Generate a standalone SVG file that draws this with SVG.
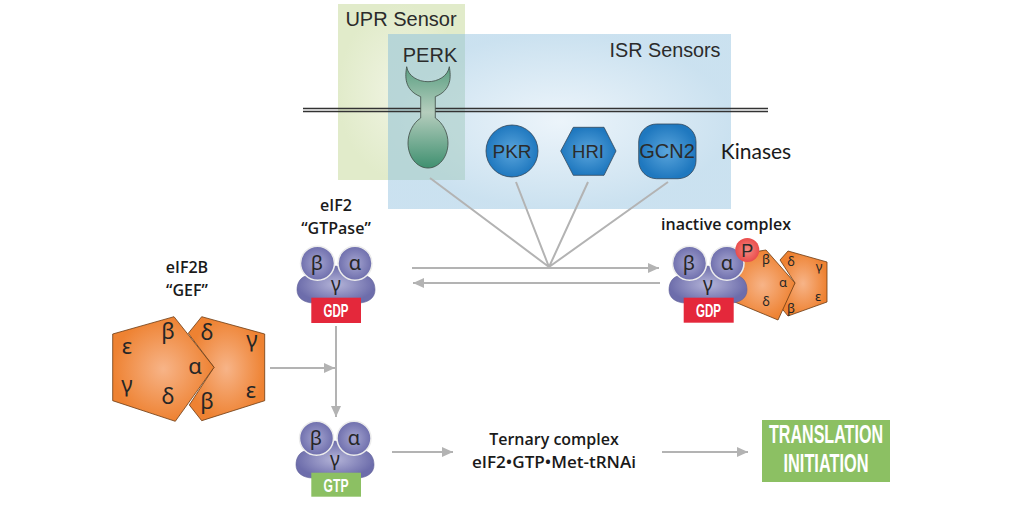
<svg xmlns="http://www.w3.org/2000/svg" width="1024" height="511" viewBox="0 0 1024 511">
<style>
.h{font-family:"Liberation Sans",Arial,sans-serif;fill:#2b2b2b;text-anchor:middle}
.l{font-family:"Open Sans","Noto Sans",sans-serif;font-weight:600;fill:#1a1a1a;text-anchor:middle;font-size:16px}
.g{font-family:"Noto Sans","DejaVu Sans",sans-serif;fill:#262626;text-anchor:middle}
.w{font-family:"Liberation Sans",Arial,sans-serif;font-weight:700;fill:#fff;text-anchor:middle}
.c{stroke:#b3b3b3;stroke-width:2;fill:none}
.sub{fill:url(#pur);stroke:#ececec;stroke-width:1.500}
.body{fill:url(#pur2);stroke:#5f5f97;stroke-width:.6}
.or{fill:url(#org);stroke:#6b3a12;stroke-width:.8}
.bl{fill:url(#blu);stroke:#33475a;stroke-width:.8}
</style>
<defs>
<radialGradient id="isr"><stop offset="0" stop-color="#eaf3fa"/><stop offset="1" stop-color="#c5deee"/></radialGradient>
<radialGradient id="upr"><stop offset="0" stop-color="#f0f4e2"/><stop offset="1" stop-color="#e1ebca"/></radialGradient>
<radialGradient id="blu"><stop offset="0" stop-color="#5aa5dc"/><stop offset="1" stop-color="#1f78bf"/></radialGradient>
<radialGradient id="org"><stop offset="0" stop-color="#f7b488"/><stop offset="1" stop-color="#ee8232"/></radialGradient>
<radialGradient id="pur"><stop offset="0" stop-color="#a5a5d0"/><stop offset="1" stop-color="#6f6fad"/></radialGradient>
<radialGradient id="pur2"><stop offset="0" stop-color="#b4b4d8"/><stop offset="1" stop-color="#6d6dab"/></radialGradient>
<radialGradient id="red"><stop offset="0" stop-color="#f58a80"/><stop offset="1" stop-color="#ea4c4c"/></radialGradient>
<linearGradient id="grn" x1="0" y1="0" x2="0" y2="1"><stop offset="0" stop-color="#5a9f82"/><stop offset=".45" stop-color="#b5cdbd"/><stop offset="1" stop-color="#3f9070"/></linearGradient>
<marker id="a" markerUnits="userSpaceOnUse" markerWidth="12" markerHeight="12" refX="11" refY="6" orient="auto"><path d="M0 1L11 6L0 11z" fill="#b3b3b3"/></marker>
<g id="eif2core">
<path class="body" d="M310 275C300 276 297 283 297 290C297 298 304 303 314 303H358C368 303 375 298 375 290C375 283 372 276 362 275L336 266Z"/>
<circle class="sub" cx="317.500" cy="263.300" r="17"/>
<circle class="sub" cx="355" cy="263.300" r="17"/>
<text class="g" x="317" y="270" font-size="20">β</text>
<text class="g" x="355" y="270" font-size="20">α</text>
<text class="g" x="336" y="291" font-size="19">γ</text>
</g>
</defs>

<g id="sensors">
<rect id="upr-box" x="338" y="4" width="127" height="176" fill="url(#upr)"/>
<text class="h" x="401" y="26" font-size="20">UPR Sensor</text>
<rect id="isr-box" x="388" y="34" width="343" height="175" fill="url(#isr)" fill-opacity=".9"/>
<rect x="388" y="34" width="77" height="146" fill="#a9cdc6" fill-opacity=".55"/>
<text class="h" x="665" y="57" font-size="19.800">ISR Sensors</text>
</g>

<g id="membrane">
<path d="M303 108.500H768M303 111.500H768" stroke="#333" stroke-width="1.300" fill="none"/>
</g>

<g id="connectors">
<path class="c" d="M430 178L549 267M516 182L549 267M588 182L549 267M668 182L549 267"/>
<path class="c" d="M412 268H659" marker-end="url(#a)"/>
<path class="c" d="M660 283H413" marker-end="url(#a)"/>
<path class="c" d="M336 326V417" marker-end="url(#a)"/>
<path class="c" d="M270 368H335" marker-end="url(#a)"/>
<path class="c" d="M392 452H453" marker-end="url(#a)"/>
<path class="c" d="M662 452H748" marker-end="url(#a)"/>
</g>

<g id="perk">
<path d="M406.700 66.700C408 76 418 81.700 428 81.700C438 81.700 448 76 449.300 66.700C451 76 452 90 435.300 96.700V118C443 123 448 133 448 143C448 157 439 168 428 168C417 168 408 157 408 143C408 133 413 123 420.700 118V96.700C404 90 405 76 406.700 66.700Z" fill="url(#grn)" stroke="#3d4a44" stroke-width=".8"/>
<text class="h" x="430" y="62" font-size="20">PERK</text>
</g>
<g id="pkr">
<circle class="bl" cx="512" cy="151" r="26"/>
<text class="h" x="512" y="158" font-size="19">PKR</text>
</g>
<g id="hri">
<path class="bl" d="M560.700 151L573.300 127.300H604L616 151L604 175.300H573.300Z"/>
<text class="h" x="588" y="158" font-size="18.500">HRI</text>
</g>
<g id="gcn2">
<rect class="bl" x="638.700" y="124" width="57.300" height="54.700" rx="18"/>
<text class="h" x="667" y="158" font-size="20">GCN2</text>
</g>
<text id="kinases" x="756" y="159" font-family="Lato,'Open Sans',sans-serif" font-size="21" fill="#1a1a1a" text-anchor="middle">Kinases</text>

<g id="eif2-gdp">
<text class="l" x="336" y="211">eIF2</text>
<text class="l" x="336" y="234">“GTPase”</text>
<use href="#eif2core"/>
<rect x="311.300" y="297.700" width="49.700" height="25.300" fill="#e4283b"/>
<text class="w" x="336" y="317" font-size="18" textLength="25" lengthAdjust="spacingAndGlyphs">GDP</text>
</g>

<g id="eif2-gtp">
<use href="#eif2core" x="-1" y="175"/>
<rect x="311.300" y="472.700" width="49.700" height="24" fill="#8cc063"/>
<text class="w" x="336" y="491.500" font-size="18" textLength="25" lengthAdjust="spacingAndGlyphs">GTP</text>
</g>

<g id="eif2b">
<text class="l" x="187" y="273">eIF2B</text>
<text class="l" x="187" y="296">“GEF”</text>
<path class="or" d="M188.300 333.300L201.700 316.700L264.700 334V400.700L201.700 420.700L189.300 405L214 367.300Z"/>
<path class="or" d="M112.700 334L174 316.700L214 367.300L175.300 421.300L112.700 400.700Z"/>
<text x="127" y="354" class="g" font-size="22">ε</text><text x="168" y="339" class="g" font-size="22">β</text>
<text x="195" y="374" class="g" font-size="22">α</text><text x="127" y="392" class="g" font-size="22">γ</text>
<text x="168" y="404" class="g" font-size="22">δ</text><text x="207" y="340" class="g" font-size="22">δ</text>
<text x="252" y="347" class="g" font-size="22">γ</text><text x="251" y="398" class="g" font-size="22">ε</text>
<text x="207" y="409" class="g" font-size="22">β</text>
</g>

<g id="inactive-complex">
<text class="l" x="726" y="230">inactive complex</text>
<path class="or" d="M780 260L788 251L827 262V302L788 316L779 305L795 283Z"/>
<path class="or" d="M766 250L795 283L778 320L730 300L735 255Z"/>
<text class="g" x="766" y="264" font-size="13">β</text><text class="g" x="766" y="306" font-size="13">δ</text>
<text class="g" x="783" y="287" font-size="13">α</text><text class="g" x="791" y="266" font-size="13">δ</text>
<text class="g" x="819" y="271" font-size="13">γ</text><text class="g" x="818" y="301" font-size="13">ε</text>
<text class="g" x="791" y="313" font-size="13">β</text>
<use href="#eif2core" x="372"/>
<rect x="683.700" y="297.700" width="50" height="25" fill="#e4283b"/>
<text class="w" x="708.500" y="317" font-size="18" textLength="25" lengthAdjust="spacingAndGlyphs">GDP</text>
<circle cx="747.300" cy="250" r="12" fill="url(#red)"/>
<text class="h" x="747.300" y="256.500" font-size="18">P</text>
</g>

<g id="ternary">
<text class="l" x="554" y="445">Ternary complex</text>
<text class="l" x="554" y="468" textLength="164" lengthAdjust="spacingAndGlyphs">eIF2•GTP•Met-tRNAi</text>
</g>

<g id="translation">
<rect x="762" y="420" width="128" height="62" fill="#8cc063"/>
<text class="w" x="826" y="443" font-size="26" textLength="114" lengthAdjust="spacingAndGlyphs">TRANSLATION</text>
<text class="w" x="826" y="472" font-size="26" textLength="85" lengthAdjust="spacingAndGlyphs">INITIATION</text>
</g>
</svg>
